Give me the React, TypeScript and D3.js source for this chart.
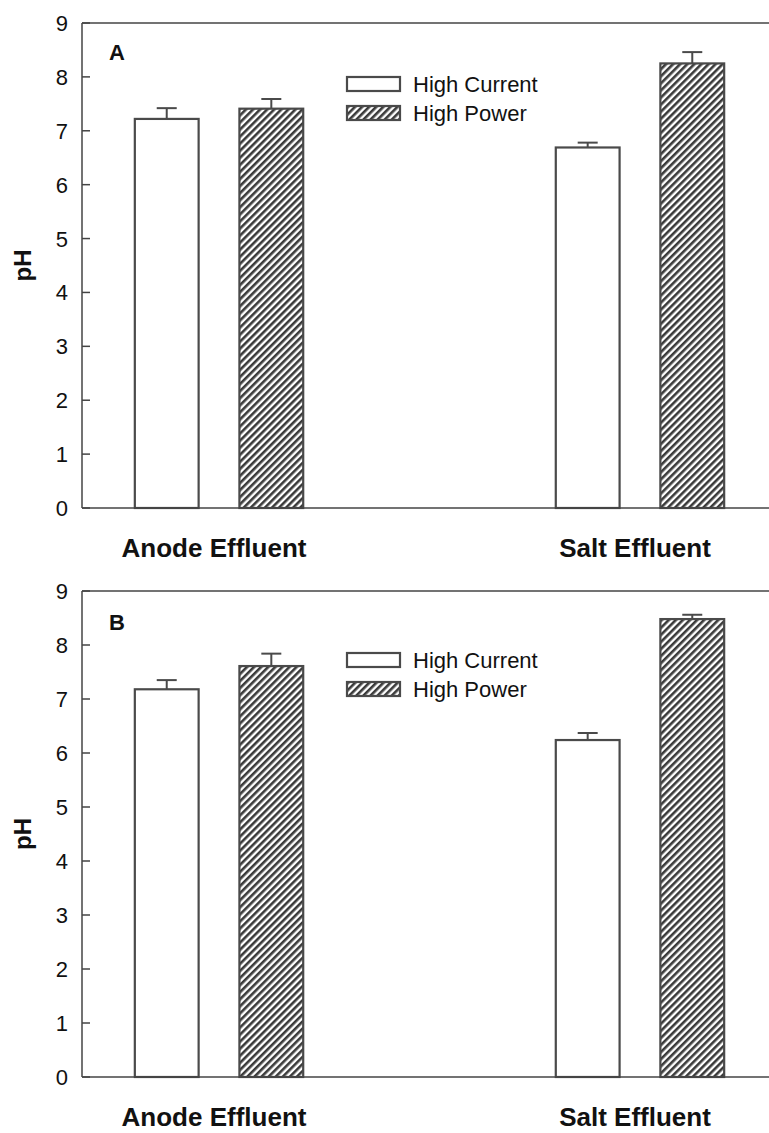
import React from "react";
import * as d3 from "d3";

const categories = ["Anode Effluent", "Salt Effluent"];
const seriesNames = ["High Current", "High Power"];
const yTicks = [0, 1, 2, 3, 4, 5, 6, 7, 8, 9];

// Panel A
const aHighCurrent = [7.22, 6.69];
const aHighCurrentErr = [0.2, 0.09];
const aHighPower = [7.41, 8.25];
const aHighPowerErr = [0.18, 0.21];

// Panel B
const bHighCurrent = [7.18, 6.24];
const bHighCurrentErr = [0.17, 0.13];
const bHighPower = [7.61, 8.48];
const bHighPowerErr = [0.23, 0.08];

const W = 769;
const H = 1133;
const STROKE = "#4a4a4a";
const AXIS = "#444";
const FONT = "Arial, 'Liberation Sans', sans-serif";

type PanelProps = {
  letter: string;
  top: number;
  bottom: number;
  hc: number[];
  hcErr: number[];
  hp: number[];
  hpErr: number[];
  legendTop: number;
  letterY: number;
};

const x0 = d3
  .scaleBand<string>()
  .domain(categories)
  .range([82, 777])
  .paddingInner(0.6)
  .paddingOuter(0.1255);

const x1 = d3
  .scaleBand<string>()
  .domain(seriesNames)
  .range([0, x0.bandwidth()])
  .paddingInner(0.39)
  .paddingOuter(0);

function Panel({ letter, top, bottom, hc, hcErr, hp, hpErr, legendTop, letterY }: PanelProps) {
  const y = d3.scaleLinear().domain([0, 9]).range([bottom, top]);
  const left = 82;
  const bars: { cat: string; s: string; v: number; e: number }[] = [];
  categories.forEach((c, i) => {
    bars.push({ cat: c, s: seriesNames[0], v: hc[i], e: hcErr[i] });
    bars.push({ cat: c, s: seriesNames[1], v: hp[i], e: hpErr[i] });
  });
  const bw = x1.bandwidth();
  return (
    <g>
      {bars.map((b, i) => {
        const bx = (x0(b.cat) as number) + (x1(b.s) as number);
        const cx = bx + bw / 2;
        return (
          <g key={i}>
            <line x1={cx} x2={cx} y1={y(b.v)} y2={y(b.v + b.e)} stroke={STROKE} strokeWidth={2} />
            <line x1={cx - 10} x2={cx + 10} y1={y(b.v + b.e)} y2={y(b.v + b.e)} stroke={STROKE} strokeWidth={2} />
            <rect
              x={bx}
              y={y(b.v)}
              width={bw}
              height={y(0) - y(b.v)}
              fill={b.s === seriesNames[0] ? "#fff" : "url(#hatch)"}
              stroke={STROKE}
              strokeWidth={2.2}
            />
          </g>
        );
      })}
      <line x1={left} x2={W} y1={top} y2={top} stroke={AXIS} strokeWidth={1.5} />
      <line x1={left} x2={W} y1={bottom} y2={bottom} stroke={AXIS} strokeWidth={1.5} />
      <line x1={left} x2={left} y1={top} y2={bottom} stroke={AXIS} strokeWidth={1.5} />
      {yTicks.map((t) => (
        <g key={t}>
          <line x1={left} x2={left + 8} y1={y(t)} y2={y(t)} stroke={AXIS} strokeWidth={1.5} />
          <text x={68} y={y(t) + 8} textAnchor="end" fontSize={22} fontFamily={FONT} fill="#111">
            {t}
          </text>
        </g>
      ))}
      <text
        transform={`translate(31,${(top + bottom) / 2}) rotate(-90)`}
        textAnchor="middle"
        fontSize={24}
        fontWeight="bold"
        fontFamily={FONT}
        fill="#111"
      >
        pH
      </text>
      <text x={109} y={letterY} fontSize={22} fontWeight="bold" fontFamily={FONT} fill="#111">
        {letter}
      </text>
      {categories.map((c) => (
        <text
          key={c}
          x={(x0(c) as number) + x0.bandwidth() / 2 - 5}
          y={bottom + 49}
          textAnchor="middle"
          fontSize={26}
          fontWeight="bold"
          fontFamily={FONT}
          fill="#111"
        >
          {c}
        </text>
      ))}
      {seriesNames.map((s, i) => (
        <g key={s} transform={`translate(347,${legendTop + i * 29})`}>
          <rect
            x={0}
            y={0}
            width={53}
            height={14}
            fill={i === 0 ? "#fff" : "url(#hatch)"}
            stroke={STROKE}
            strokeWidth={2.2}
          />
          <text x={66} y={15} fontSize={22} fontFamily={FONT} fill="#111">
            {s}
          </text>
        </g>
      ))}
    </g>
  );
}

export default function App() {
  return (
    <svg
      width={W}
      height={H}
      style={{ position: "absolute", left: 0, top: 0, background: "#fff" }}
    >
      <defs>
        <pattern
          id="hatch"
          patternUnits="userSpaceOnUse"
          width={5}
          height={5}
          patternTransform="rotate(45)"
        >
          <rect width={5} height={5} fill="#fff" />
          <rect x={0} y={0} width={2.6} height={5} fill="#3a3a3a" />
        </pattern>
      </defs>
      <Panel
        letter="A"
        top={23}
        bottom={508}
        hc={aHighCurrent}
        hcErr={aHighCurrentErr}
        hp={aHighPower}
        hpErr={aHighPowerErr}
        legendTop={77}
        letterY={60}
      />
      <Panel
        letter="B"
        top={591}
        bottom={1077}
        hc={bHighCurrent}
        hcErr={bHighCurrentErr}
        hp={bHighPower}
        hpErr={bHighPowerErr}
        legendTop={653}
        letterY={630}
      />
    </svg>
  );
}
